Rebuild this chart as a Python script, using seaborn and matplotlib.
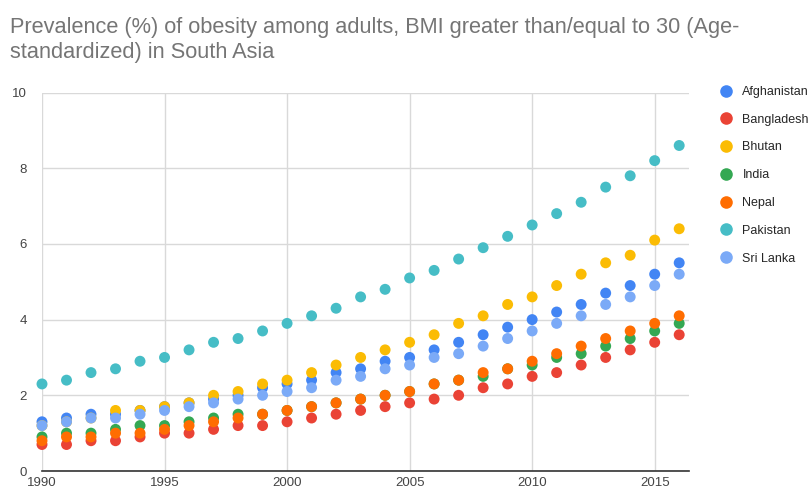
import matplotlib
matplotlib.use("Agg")
import matplotlib.pyplot as plt
import seaborn as sns
import pandas as pd

years = list(range(1990, 2017))

countries = ["Afghanistan", "Bangladesh", "Bhutan", "India", "Nepal", "Pakistan", "Sri Lanka"]

afghanistan = [1.3, 1.4, 1.5, 1.5, 1.6, 1.7, 1.8, 1.9, 2.0, 2.2, 2.3, 2.4, 2.6, 2.7,
               2.9, 3.0, 3.2, 3.4, 3.6, 3.8, 4.0, 4.2, 4.4, 4.7, 4.9, 5.2, 5.5]
bangladesh = [0.7, 0.7, 0.8, 0.8, 0.9, 1.0, 1.0, 1.1, 1.2, 1.2, 1.3, 1.4, 1.5, 1.6,
              1.7, 1.8, 1.9, 2.0, 2.2, 2.3, 2.5, 2.6, 2.8, 3.0, 3.2, 3.4, 3.6]
bhutan = [1.2, 1.3, 1.4, 1.6, 1.6, 1.7, 1.8, 2.0, 2.1, 2.3, 2.4, 2.6, 2.8, 3.0,
          3.2, 3.4, 3.6, 3.9, 4.1, 4.4, 4.6, 4.9, 5.2, 5.5, 5.7, 6.1, 6.4]
india = [0.9, 1.0, 1.0, 1.1, 1.2, 1.2, 1.3, 1.4, 1.5, 1.5, 1.6, 1.7, 1.8, 1.9,
         2.0, 2.1, 2.3, 2.4, 2.5, 2.7, 2.8, 3.0, 3.1, 3.3, 3.5, 3.7, 3.9]
nepal = [0.8, 0.9, 0.9, 1.0, 1.0, 1.1, 1.2, 1.3, 1.4, 1.5, 1.6, 1.7, 1.8, 1.9,
         2.0, 2.1, 2.3, 2.4, 2.6, 2.7, 2.9, 3.1, 3.3, 3.5, 3.7, 3.9, 4.1]
pakistan = [2.3, 2.4, 2.6, 2.7, 2.9, 3.0, 3.2, 3.4, 3.5, 3.7, 3.9, 4.1, 4.3, 4.6,
            4.8, 5.1, 5.3, 5.6, 5.9, 6.2, 6.5, 6.8, 7.1, 7.5, 7.8, 8.2, 8.6]
sri_lanka = [1.2, 1.3, 1.4, 1.4, 1.5, 1.6, 1.7, 1.8, 1.9, 2.0, 2.1, 2.2, 2.4, 2.5,
             2.7, 2.8, 3.0, 3.1, 3.3, 3.5, 3.7, 3.9, 4.1, 4.4, 4.6, 4.9, 5.2]

series = [afghanistan, bangladesh, bhutan, india, nepal, pakistan, sri_lanka]

x_ticks = [1990, 1995, 2000, 2005, 2010, 2015]
y_ticks = [0, 2, 4, 6, 8, 10]

colors = ["#4285F4", "#EA4335", "#FBBC04", "#34A853", "#FF6D01", "#46BDC6", "#7BAAF7"]

title = ("Prevalence (%) of obesity among adults, BMI greater than/equal to 30 (Age-\n"
         "standardized) in South Asia")

rows = []
for name, vals in zip(countries, series):
    for yr, v in zip(years, vals):
        rows.append({"Year": yr, "Prevalence": v, "Country": name})
df = pd.DataFrame(rows)

sns.set_theme(style="white")
plt.rcParams["font.family"] = ["Liberation Sans", "DejaVu Sans"]

fig = plt.figure(figsize=(8.11, 4.91), dpi=100)
ax = fig.add_axes([42 / 811, 20 / 491, 647 / 811, 378.5 / 491])

sns.scatterplot(data=df, x="Year", y="Prevalence", hue="Country",
                hue_order=countries, palette=colors, s=62, linewidth=0,
                alpha=1.0, ax=ax, zorder=3, clip_on=False)

ax.set_xlim(1990, 2016.4)
ax.set_ylim(0, 10)
ax.set_xticks(x_ticks)
ax.set_yticks(y_ticks)
ax.set_xlabel("")
ax.set_ylabel("")

ax.grid(True, color="#d9d9d9", linewidth=1.0, zorder=0)
ax.set_axisbelow(True)
for side in ["top", "right", "left"]:
    ax.spines[side].set_visible(False)
ax.spines["bottom"].set_color("#333333")
ax.spines["bottom"].set_linewidth(1.2)
ax.spines["bottom"].set_zorder(2)

ax.tick_params(axis="both", length=0, labelsize=9.5, labelcolor="#444444")
ax.tick_params(axis="x", pad=4.5)
ax.tick_params(axis="y", pad=11)

fig.text(10 / 811, 1 - 17 / 491, title, ha="left", va="top",
         fontsize=15.7, color="#757575", linespacing=1.22)

handles, labels = ax.get_legend_handles_labels()
ax.legend(handles, labels, loc="upper left", bbox_to_anchor=(713 / 811, 1 - 86 / 491),
          bbox_transform=fig.transFigure, frameon=False, fontsize=9,
          labelspacing=1.26, handletextpad=0.35, markerscale=1.15,
          borderaxespad=0, borderpad=0)

fig.savefig("out.png", dpi=100)
